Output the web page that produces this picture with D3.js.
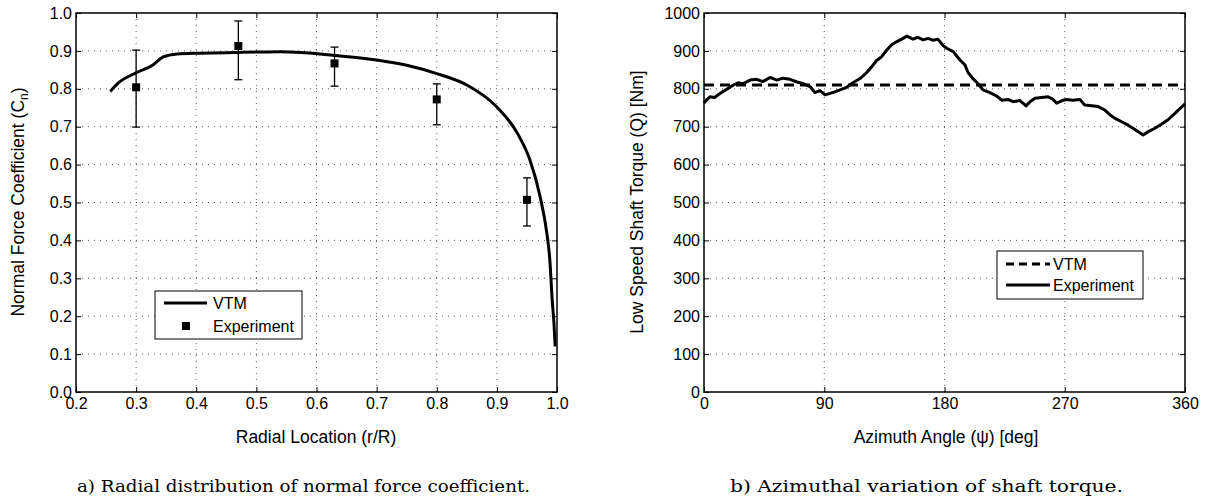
<!DOCTYPE html>
<html>
<head>
<meta charset="utf-8">
<script src="https://cdn.jsdelivr.net/npm/d3@7"></script>
<style>
  body { margin: 0; background: #fff; }
  text { font-family: "Liberation Sans", Arial, sans-serif; fill: #000; }
  .caption { font-family: "DejaVu Serif", "Liberation Serif", serif; }
</style>
</head>
<body>
<div id="chart"></div>
<script>
// left panel: radial distribution of Cn
var vtm_r  = [0.257, 0.27, 0.30, 0.328, 0.345, 0.368, 0.40, 0.45, 0.50, 0.54, 0.58, 0.63, 0.70, 0.75, 0.80, 0.85, 0.90, 0.934, 0.955, 0.972, 0.983, 0.988, 0.992, 0.995, 0.997]
var vtm_cn = [0.793, 0.815, 0.842, 0.863, 0.884, 0.892, 0.894, 0.895, 0.897, 0.898, 0.895, 0.888, 0.876, 0.862, 0.840, 0.810, 0.752, 0.683, 0.612, 0.515, 0.420, 0.350, 0.243, 0.180, 0.120]

var exp_r    = [0.30, 0.47, 0.63, 0.80, 0.95]
var exp_cn   = [0.804, 0.913, 0.867, 0.772, 0.507]
var exp_low  = [0.699, 0.824, 0.807, 0.705, 0.438]
var exp_high = [0.902, 0.979, 0.910, 0.813, 0.565]

var r_ticks  = [0.2, 0.3, 0.4, 0.5, 0.6, 0.7, 0.8, 0.9, 1.0]
var cn_ticks = [0.0, 0.1, 0.2, 0.3, 0.4, 0.5, 0.6, 0.7, 0.8, 0.9, 1.0]

// right panel: shaft torque over azimuth
var vtm_torque = 810
var psi = [0, 1.5, 4.5, 8, 10.5, 14, 18, 22, 25.5, 29, 34.5, 39.5, 44, 49.4, 54.6, 59, 64.4, 69.6, 74, 79.4,
           83, 86.8, 90.6, 94.3, 98, 101.8, 106.8, 111.5, 116.8, 121.8, 125.5, 129, 133, 136.7, 140.5, 144, 149, 151.8, 156.5, 160,
           164, 167.8, 171.5, 175, 179, 181.6, 186.5, 191.6, 195.3, 197.6, 201.3, 205, 208.8, 214, 219, 222.8, 227.5, 231.3, 236.5, 241,
           244, 247.7, 252.7, 257.5, 261.2, 264, 268.8, 271.5, 276, 281.4, 285, 290.2, 295, 300, 304, 307.6, 312.6, 317.4, 321, 324.9,
           328.6, 332.5, 337.5, 342.6, 347.5, 352.5, 356.2, 360]
var torque = [762, 769, 779, 777, 784, 792, 801, 810, 816, 813, 823, 825, 819, 830, 823, 828, 825, 818, 814, 806,
              790, 795, 784, 788, 792, 797, 804, 816, 827, 843, 858, 874, 885, 902, 916, 924, 933, 939, 931, 936,
              929, 933, 928, 931, 914, 907, 898, 876, 863, 843, 827, 814, 797, 790, 781, 770, 772, 766, 769, 755,
              766, 775, 777, 779, 772, 762, 770, 772, 770, 772, 757, 755, 753, 744, 731, 722, 713, 704, 696, 687,
              678, 687, 696, 707, 719, 735, 748, 760]

var psi_ticks = [0, 90, 180, 270, 360]
var q_ticks   = [0, 100, 200, 300, 400, 500, 600, 700, 800, 900, 1000]

var svg = d3.select("#chart").append("svg")
    .attr("width", 1212)
    .attr("height", 500)
svg.append("rect").attr("width", 1212).attr("height", 500).attr("fill", "#fff")

function make_frame(g, x, y, xt, yt, xfmt, yfmt, w, h){
  // dotted grid
  g.append("g").selectAll("line").data(xt.slice(1, -1)).enter().append("line")
      .attr("x1", d => x(d)).attr("x2", d => x(d)).attr("y1", 0).attr("y2", h)
      .attr("stroke", "#333").attr("stroke-width", 0.8).attr("stroke-dasharray", "1,5")
  g.append("g").selectAll("line").data(yt.slice(1, -1)).enter().append("line")
      .attr("y1", d => y(d)).attr("y2", d => y(d)).attr("x1", 0).attr("x2", w)
      .attr("stroke", "#333").attr("stroke-width", 0.8).attr("stroke-dasharray", "1,5")

  var ax_b = g.append("g").attr("transform", "translate(0," + h + ")")
      .call(d3.axisBottom(x).tickValues(xt).tickFormat(xfmt).tickSize(-5).tickPadding(6))
  var ax_l = g.append("g")
      .call(d3.axisLeft(y).tickValues(yt).tickFormat(yfmt).tickSize(-5).tickPadding(4))
  var ax_t = g.append("g")
      .call(d3.axisTop(x).tickValues(xt).tickFormat("").tickSize(-5))
  var ax_r = g.append("g").attr("transform", "translate(" + w + ",0)")
      .call(d3.axisRight(y).tickValues(yt).tickFormat("").tickSize(-5))
  ;[ax_b, ax_l, ax_t, ax_r].forEach(function(a){
    a.select(".domain").remove()
    a.selectAll(".tick line").attr("stroke", "#000").attr("stroke-width", 1)
    a.selectAll("text").attr("font-size", 16).attr("font-family", "Liberation Sans, Arial, sans-serif").attr("fill", "#000")
  })
  ax_b.selectAll("text").attr("dy", "0.71em")
  g.append("rect").attr("width", w).attr("height", h)
      .attr("fill", "none").attr("stroke", "#000").attr("stroke-width", 1.5)
}

// ---------- left panel ----------
var lw = 481, lh = 379
var left = svg.append("g").attr("transform", "translate(76,13)")
var xl = d3.scaleLinear().domain([0.2, 1.0]).range([0, lw])
var yl = d3.scaleLinear().domain([0, 1.0]).range([lh, 0])
make_frame(left, xl, yl, r_ticks, cn_ticks, d3.format(".1f"), d3.format(".1f"), lw, lh)

left.append("path")
    .datum(d3.zip(vtm_r, vtm_cn))
    .attr("d", d3.line().x(d => xl(d[0])).y(d => yl(d[1])).curve(d3.curveMonotoneX))
    .attr("fill", "none").attr("stroke", "#000").attr("stroke-width", 3)

var err = left.append("g").selectAll("g").data(d3.range(exp_r.length)).enter().append("g")
err.append("line")
    .attr("x1", i => xl(exp_r[i])).attr("x2", i => xl(exp_r[i]))
    .attr("y1", i => yl(exp_low[i])).attr("y2", i => yl(exp_high[i]))
    .attr("stroke", "#000").attr("stroke-width", 1.3)
err.append("line")
    .attr("x1", i => xl(exp_r[i]) - 4).attr("x2", i => xl(exp_r[i]) + 4)
    .attr("y1", i => yl(exp_low[i])).attr("y2", i => yl(exp_low[i]))
    .attr("stroke", "#000").attr("stroke-width", 1.3)
err.append("line")
    .attr("x1", i => xl(exp_r[i]) - 4).attr("x2", i => xl(exp_r[i]) + 4)
    .attr("y1", i => yl(exp_high[i])).attr("y2", i => yl(exp_high[i]))
    .attr("stroke", "#000").attr("stroke-width", 1.3)
err.append("rect")
    .attr("x", i => xl(exp_r[i]) - 4).attr("y", i => yl(exp_cn[i]) - 4)
    .attr("width", 8).attr("height", 8).attr("fill", "#000")

// legend left
var legl = svg.append("g").attr("transform", "translate(155,291)")
legl.append("rect").attr("width", 147).attr("height", 48).attr("fill", "#fff").attr("stroke", "#000").attr("stroke-width", 1)
legl.append("line").attr("x1", 9).attr("x2", 52).attr("y1", 12).attr("y2", 12).attr("stroke", "#000").attr("stroke-width", 3)
legl.append("text").attr("x", 58).attr("y", 18).attr("font-size", 16).text("VTM")
legl.append("rect").attr("x", 27).attr("y", 31).attr("width", 8).attr("height", 8).attr("fill", "#000")
legl.append("text").attr("x", 58).attr("y", 41).attr("font-size", 16).text("Experiment")

svg.append("text").attr("x", 316).attr("y", 443).attr("text-anchor", "middle").attr("font-size", 17.5)
    .text("Radial Location (r/R)")
var ylab = svg.append("text").attr("transform", "translate(24,202) rotate(-90)")
    .attr("text-anchor", "middle").attr("font-size", 17.5)
ylab.append("tspan").text("Normal Force Coefficient (C")
ylab.append("tspan").attr("font-size", 12).attr("dy", 4).text("n")
ylab.append("tspan").attr("dy", -4).text(")")

svg.append("text").attr("class", "caption").attr("x", 77).attr("y", 492).attr("font-size", 16)
    .attr("textLength", 453).attr("lengthAdjust", "spacingAndGlyphs")
    .text("a) Radial distribution of normal force coefficient.")

// ---------- right panel ----------
var rw = 481, rh = 379
var right = svg.append("g").attr("transform", "translate(704,13)")
var xr = d3.scaleLinear().domain([0, 360]).range([0, rw])
var yr = d3.scaleLinear().domain([0, 1000]).range([rh, 0])
make_frame(right, xr, yr, psi_ticks, q_ticks, d3.format("d"), d3.format("d"), rw, rh)

right.append("path")
    .datum(d3.zip(psi, torque))
    .attr("d", d3.line().x(d => xr(d[0])).y(d => yr(d[1])))
    .attr("fill", "none").attr("stroke", "#000").attr("stroke-width", 3).attr("stroke-linejoin", "round")
right.append("line")
    .attr("x1", xr(0)).attr("x2", xr(360)).attr("y1", yr(vtm_torque)).attr("y2", yr(vtm_torque))
    .attr("stroke", "#000").attr("stroke-width", 3).attr("stroke-dasharray", "10,6")

// legend right
var legr = svg.append("g").attr("transform", "translate(997,251)")
legr.append("rect").attr("width", 146).attr("height", 48).attr("fill", "#fff").attr("stroke", "#000").attr("stroke-width", 1)
legr.append("line").attr("x1", 9).attr("x2", 53).attr("y1", 13).attr("y2", 13).attr("stroke", "#000").attr("stroke-width", 3).attr("stroke-dasharray", "8,5")
legr.append("text").attr("x", 56).attr("y", 19).attr("font-size", 16).text("VTM")
legr.append("line").attr("x1", 9).attr("x2", 53).attr("y1", 34).attr("y2", 34).attr("stroke", "#000").attr("stroke-width", 3)
legr.append("text").attr("x", 56).attr("y", 40).attr("font-size", 16).text("Experiment")

svg.append("text").attr("x", 946).attr("y", 443).attr("text-anchor", "middle").attr("font-size", 17.5)
    .text("Azimuth Angle (\u03c8) [deg]")
svg.append("text").attr("transform", "translate(643,202) rotate(-90)")
    .attr("text-anchor", "middle").attr("font-size", 17.5)
    .text("Low Speed Shaft Torque (Q) [Nm]")

svg.append("text").attr("class", "caption").attr("x", 730).attr("y", 492).attr("font-size", 16)
    .attr("textLength", 393).attr("lengthAdjust", "spacingAndGlyphs")
    .text("b) Azimuthal variation of shaft torque.")
</script>
</body>
</html>
